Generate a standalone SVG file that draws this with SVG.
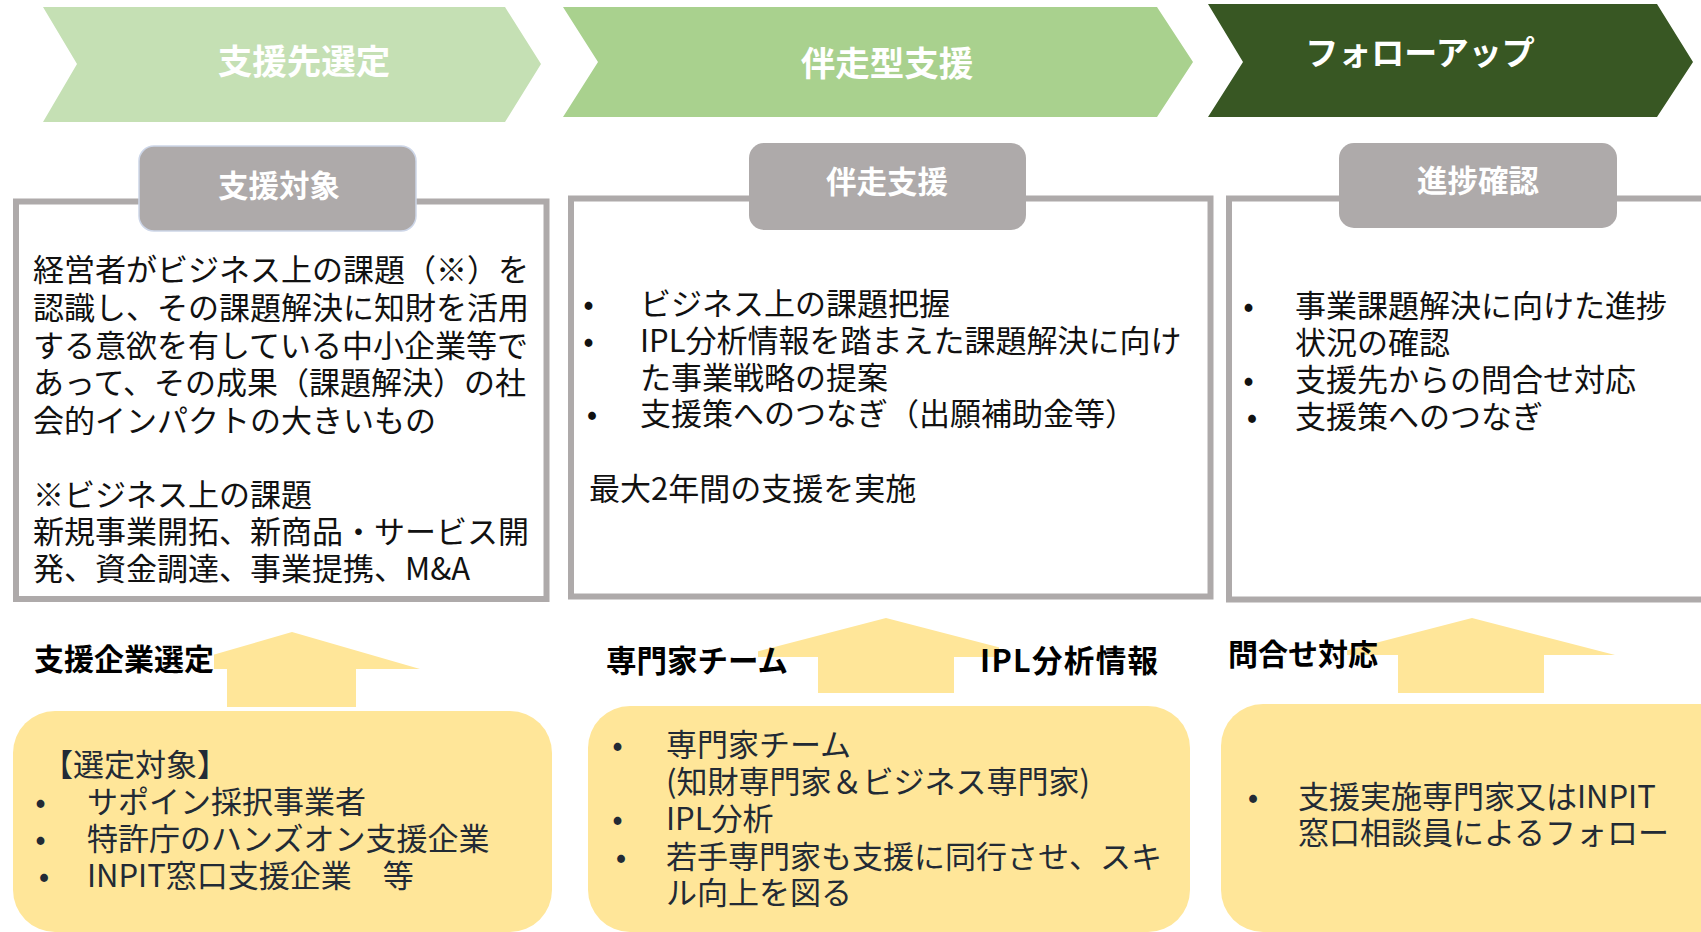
<svg xmlns="http://www.w3.org/2000/svg" width="1701" height="932" viewBox="0 0 1701 932">
<style>
text{font-family:"Noto Sans CJK JP","Noto Sans",sans-serif;}
.hd{fill:#fff;font-weight:bold;text-anchor:middle;dominant-baseline:central;}
.tab{fill:#AEAAAA;}
.tabt{fill:#fff;font-weight:bold;text-anchor:middle;dominant-baseline:central;}
.box{fill:#fff;stroke:#AEAAAA;stroke-width:6;}
.bt{fill:#111;dominant-baseline:central;}
.yb{fill:#FFE699;}
.yt{fill:#222A35;dominant-baseline:central;}
.arr{fill:#FFE699;}
.lbl{fill:#000;font-weight:bold;dominant-baseline:central;}
.lbg{fill:#fff;}
.bl{text-anchor:middle;}
</style>
<rect x="0" y="0" width="1701" height="932" fill="#fff"/>

<g id="phase1">
<path d="M43,7 L505,7 L541,64 L505,122 L43,122 L77,64 Z" fill="#C5E0B4"/>
<text class="hd" x="304" y="59" font-size="34.5">支援先選定</text>
</g>
<g id="phase2">
<path d="M563,7 L1157,7 L1193,62 L1157,117 L563,117 L598,62 Z" fill="#A9D18E"/>
<text class="hd" x="887" y="61" font-size="34.5">伴走型支援</text>
</g>
<g id="phase3">
<path d="M1208,4 L1657,4 L1693,62 L1657,117 L1208,117 L1243,62 Z" fill="#385723"/>
<text class="hd" x="1420" y="51" font-size="33">フォローアップ</text>
</g>

<g id="connectors">
<path class="arr" d="M292,632 L420,669 L356,669 L356,707 L227,707 L227,669 L164,669 Z"/>
<path class="arr" d="M886,618 L1036,657 L954,657 L954,693 L818,693 L818,657 L736,657 Z"/>
<path class="arr" d="M1472,618 L1615,655 L1544,655 L1544,693 L1398,693 L1398,655 L1329,655 Z"/>
</g>

<g id="box1">
<rect class="box" x="16" y="201.5" width="530.5" height="397.5"/>
<rect class="tab" x="139" y="146" width="277" height="85" rx="15" stroke="#CDD6E8" stroke-width="1.5"/>
<text class="tabt" x="279" y="184" font-size="30.5">支援対象</text>
<text class="bt" font-size="31">
<tspan x="33" y="267">経営者がビジネス上の課題（※）を</tspan>
<tspan x="33" y="305">認識し、その課題解決に知財を活用</tspan>
<tspan x="33" y="343">する意欲を有している中小企業等で</tspan>
<tspan x="33" y="380">あって、その成果（課題解決）の社</tspan>
<tspan x="33" y="418">会的インパクトの大きいもの</tspan>
<tspan x="33" y="492">※ビジネス上の課題</tspan>
<tspan x="33" y="529">新規事業開拓、新商品・サービス開</tspan>
<tspan x="33" y="566">発、資金調達、事業提携、M&amp;A</tspan>
</text>
</g>

<g id="box2">
<rect class="box" x="571" y="198.5" width="639.5" height="398"/>
<rect class="tab" x="749" y="143" width="277" height="87" rx="15"/>
<text class="tabt" x="887" y="180" font-size="30.5">伴走支援</text>
<text class="bt bl" font-size="31">
<tspan x="592" y="301">•</tspan>
<tspan x="592" y="338">•</tspan>
<tspan x="592" y="411">•</tspan>
</text>
<text class="bt" font-size="31">
<tspan x="640" y="301">ビジネス上の課題把握</tspan>
<tspan x="640" y="338">IPL分析情報を踏まえた課題解決に向け</tspan>
<tspan x="640" y="375">た事業戦略の提案</tspan>
<tspan x="640" y="411">支援策へのつなぎ（出願補助金等）</tspan>
<tspan x="589" y="486">最大2年間の支援を実施</tspan>
</text>
</g>

<g id="box3">
<rect class="box" x="1229" y="198.5" width="500" height="401"/>
<rect class="tab" x="1339" y="143" width="278" height="85" rx="15"/>
<text class="tabt" x="1478" y="179" font-size="30.5">進捗確認</text>
<text class="bt bl" font-size="31">
<tspan x="1252" y="303">•</tspan>
<tspan x="1252" y="377">•</tspan>
<tspan x="1252" y="414">•</tspan>
</text>
<text class="bt" font-size="31">
<tspan x="1295" y="303">事業課題解決に向けた進捗</tspan>
<tspan x="1295" y="340">状況の確認</tspan>
<tspan x="1295" y="377">支援先からの問合せ対応</tspan>
<tspan x="1295" y="414">支援策へのつなぎ</tspan>
</text>
</g>

<g id="label1">
<rect class="lbg" x="26" y="635" width="188" height="45"/>
<text class="lbl" x="34" y="657" font-size="30">支援企業選定</text>
</g>
<g id="label2a">
<rect class="lbg" x="598" y="635" width="160" height="45"/>
<text class="lbl" x="606" y="659" font-size="30.5">専門家チーム</text>
</g>
<g id="label2b">
<rect class="lbg" x="999" y="635" width="170" height="45"/>
<text class="lbl" x="980" y="659" font-size="30.5" textLength="178" lengthAdjust="spacing">IPL分析情報</text>
</g>
<g id="label3">
<rect class="lbg" x="1222" y="628" width="125" height="45"/>
<text class="lbl" x="1228" y="652" font-size="30">問合せ対応</text>
</g>

<g id="source1">
<rect class="yb" x="13" y="711" width="539" height="221" rx="42"/>
<text class="yt bl" font-size="31">
<tspan x="44" y="799">•</tspan>
<tspan x="44" y="836">•</tspan>
<tspan x="44" y="873">•</tspan>
</text>
<text class="yt" font-size="31">
<tspan x="42" y="762">【選定対象】</tspan>
<tspan x="87" y="799">サポイン採択事業者</tspan>
<tspan x="87" y="836">特許庁のハンズオン支援企業</tspan>
<tspan x="87" y="873">INPIT窓口支援企業　等</tspan>
</text>
</g>
<g id="source2">
<rect class="yb" x="588" y="706" width="602" height="226" rx="42"/>
<text class="yt bl" font-size="31">
<tspan x="621" y="742">•</tspan>
<tspan x="621" y="816">•</tspan>
<tspan x="621" y="854">•</tspan>
</text>
<text class="yt" font-size="31">
<tspan x="666" y="742">専門家チーム</tspan>
<tspan x="666" y="779">(知財専門家＆ビジネス専門家)</tspan>
<tspan x="666" y="816">IPL分析</tspan>
<tspan x="666" y="854">若手専門家も支援に同行させ、スキ</tspan>
<tspan x="666" y="890">ル向上を図る</tspan>
</text>
</g>
<g id="source3">
<rect class="yb" x="1221" y="704" width="520" height="228" rx="42"/>
<text class="yt bl" x="1253" y="794" font-size="31">•</text>
<text class="yt" font-size="31">
<tspan x="1298" y="794">支援実施専門家又はINPIT</tspan>
<tspan x="1298" y="830">窓口相談員によるフォロー</tspan>
</text>
</g>
</svg>
